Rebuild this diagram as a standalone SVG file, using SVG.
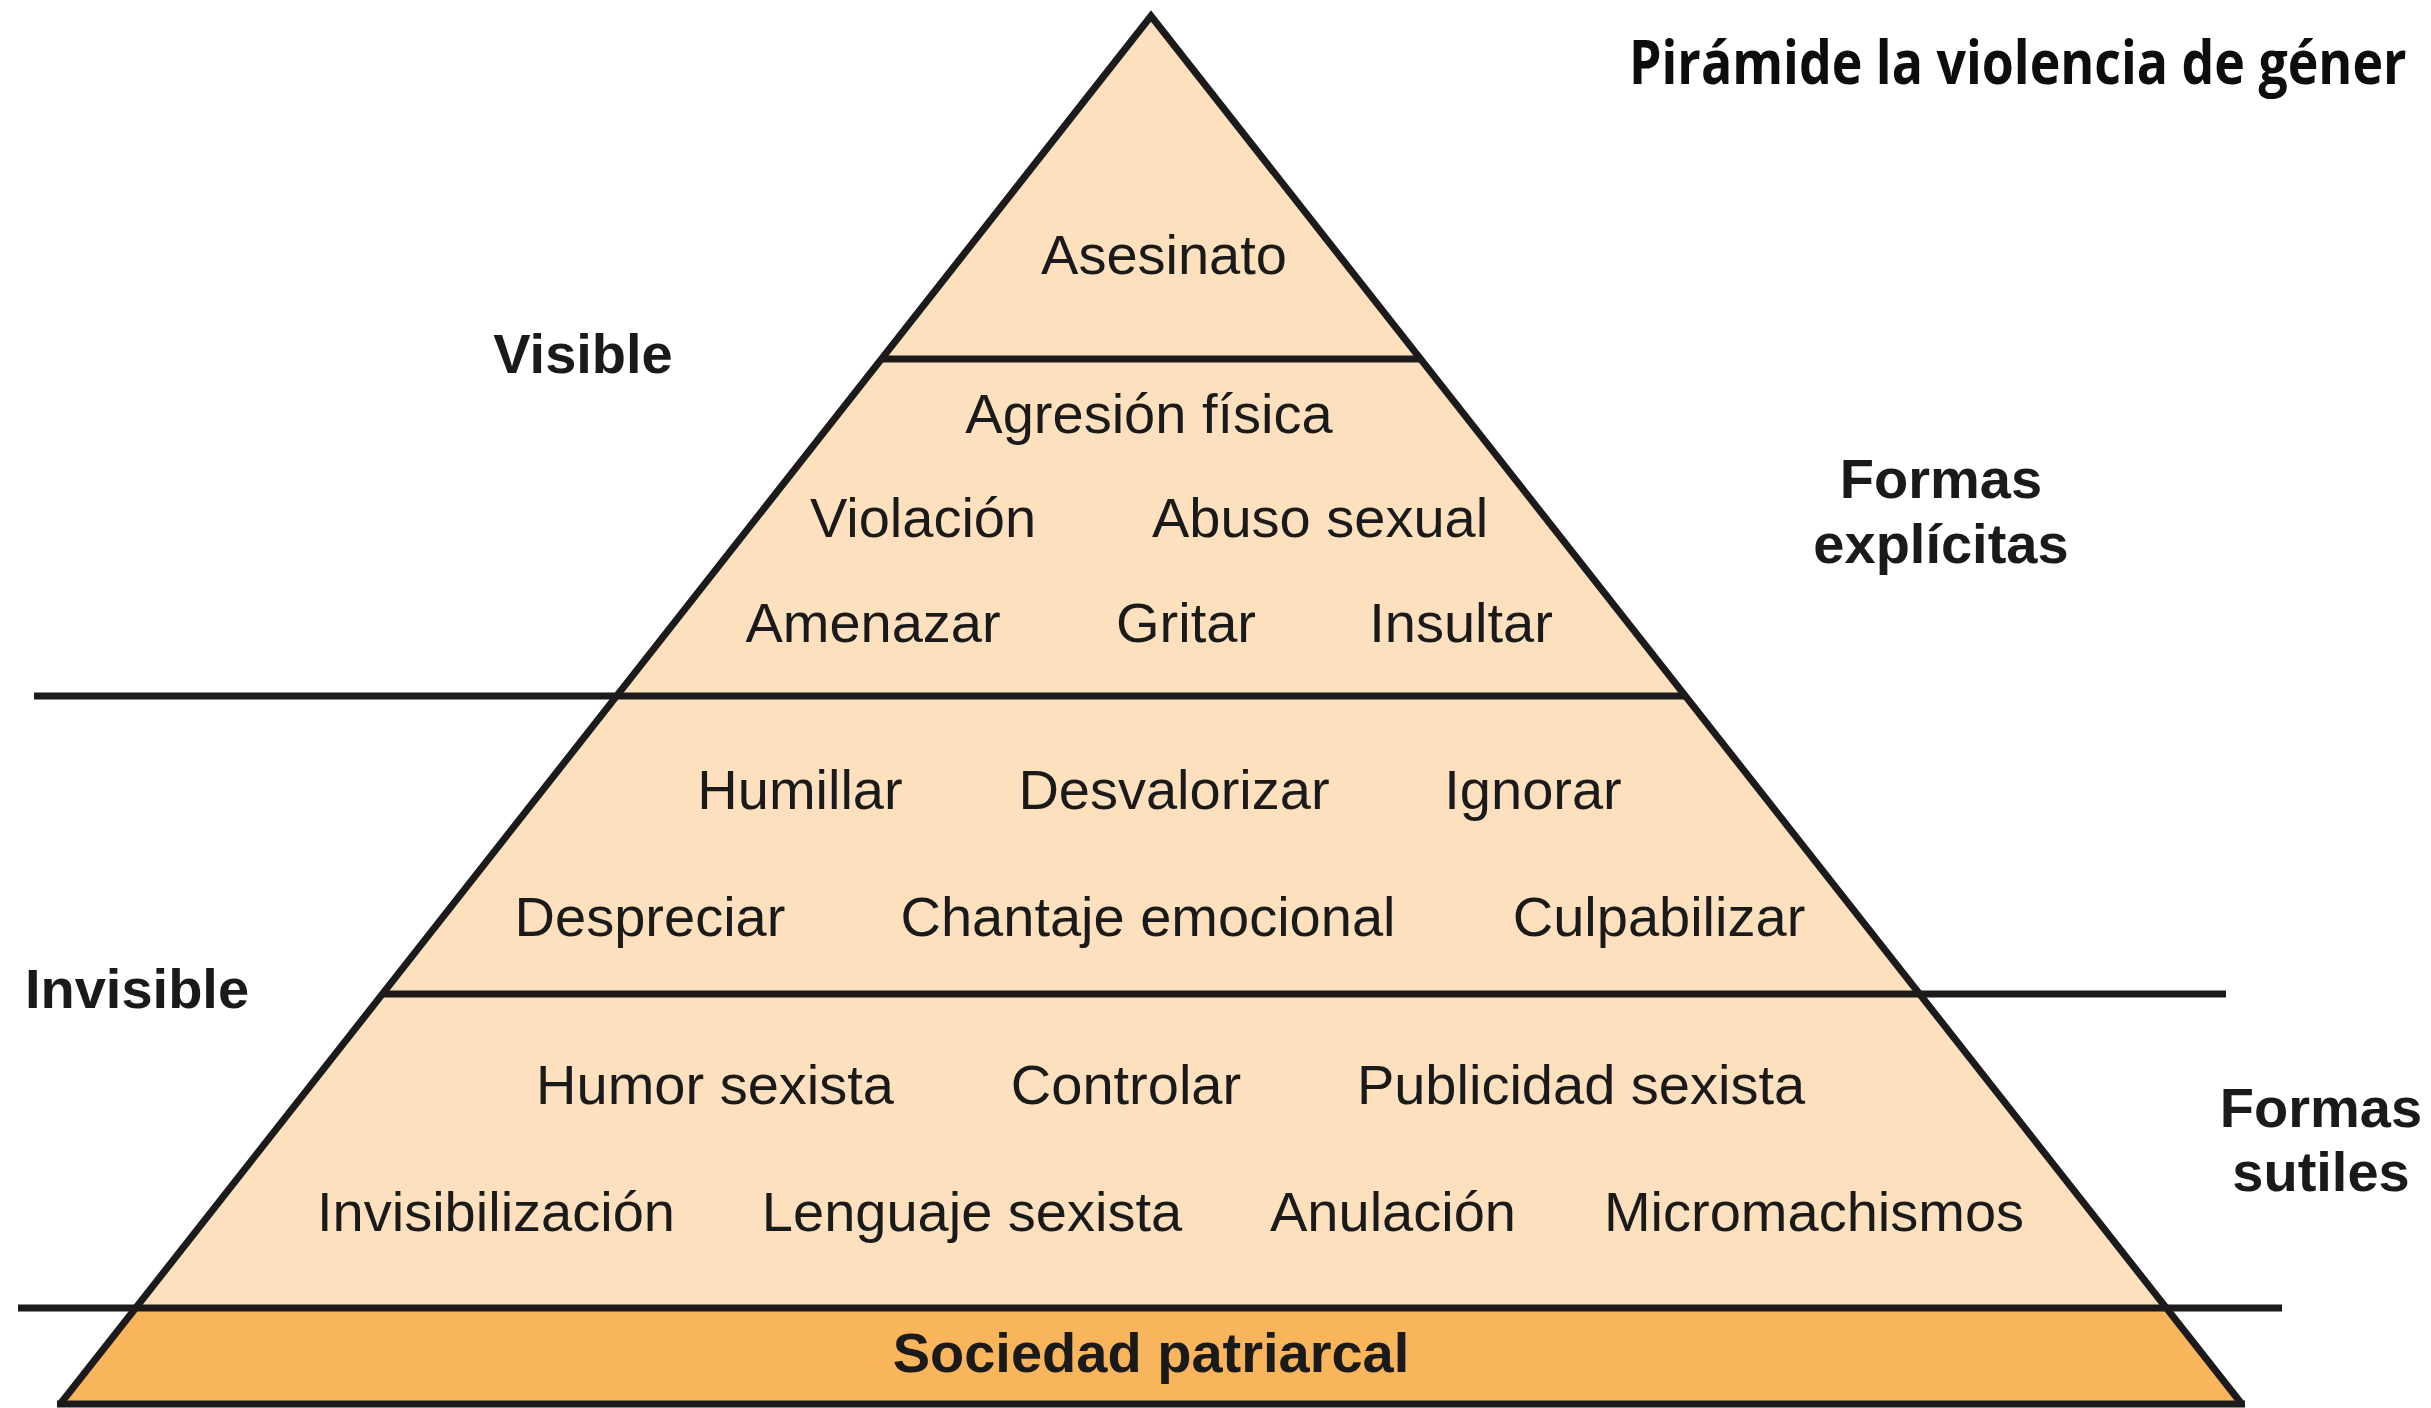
<svg xmlns="http://www.w3.org/2000/svg" width="2431" height="1408" viewBox="0 0 2431 1408">
  <style>
    .t { font-family: "Liberation Sans", Arial, sans-serif; font-size: 56px; fill: #1b1a1a; text-anchor: middle; }
    .b { font-weight: bold; }
    .ln { stroke: #1c1a1a; stroke-width: 7; fill: none; }
  </style>
  <rect x="0" y="0" width="2431" height="1408" fill="#ffffff"/>
  <g id="pyramid">
    <polygon points="1151,16 61,1403 2241,1403" fill="#fde0bd"/>
    <polygon id="base" points="135.5,1308 2166.5,1308 2241,1403 61,1403" fill="#f9b55c"/>
  </g>
  <g id="dividers">
    <line class="ln" x1="881" y1="359" x2="1421" y2="359"/>
    <line class="ln" x1="34" y1="696" x2="1685" y2="696"/>
    <line class="ln" x1="382" y1="994" x2="2226" y2="994"/>
    <line class="ln" x1="18" y1="1308" x2="2282" y2="1308"/>
    <polyline class="ln" points="61,1403 1151,16 2241,1403" stroke-linejoin="miter" stroke-miterlimit="10"/>
    <line class="ln" x1="57" y1="1404" x2="2245" y2="1404"/>
  </g>
  <g id="tier-top">
    <text class="t" x="1164" y="274">Asesinato</text>
  </g>
  <g id="tier-2">
    <text class="t" x="1149" y="433">Agresión física</text>
    <text class="t" x="923" y="537">Violación</text>
    <text class="t" x="1320" y="537">Abuso sexual</text>
    <text class="t" x="873" y="642">Amenazar</text>
    <text class="t" x="1186" y="642">Gritar</text>
    <text class="t" x="1461" y="642">Insultar</text>
  </g>
  <g id="tier-3">
    <text class="t" x="800" y="809">Humillar</text>
    <text class="t" x="1174" y="809">Desvalorizar</text>
    <text class="t" x="1533" y="809">Ignorar</text>
    <text class="t" x="650" y="936">Despreciar</text>
    <text class="t" x="1148" y="936">Chantaje emocional</text>
    <text class="t" x="1659" y="936">Culpabilizar</text>
  </g>
  <g id="tier-4">
    <text class="t" x="715" y="1104">Humor sexista</text>
    <text class="t" x="1126" y="1104">Controlar</text>
    <text class="t" x="1581" y="1104">Publicidad sexista</text>
    <text class="t" x="496" y="1231">Invisibilización</text>
    <text class="t" x="972" y="1231">Lenguaje sexista</text>
    <text class="t" x="1393" y="1231">Anulación</text>
    <text class="t" x="1814" y="1231">Micromachismos</text>
  </g>
  <g id="tier-base">
    <text class="t b" x="1151" y="1372">Sociedad patriarcal</text>
  </g>
  <g id="labels">
    <text class="t b" x="583" y="373">Visible</text>
    <text class="t b" x="1941" y="498">Formas</text>
    <text class="t b" x="1941" y="563">explícitas</text>
    <text class="t b" x="137" y="1008">Invisible</text>
    <text class="t b" x="2321" y="1127">Formas</text>
    <text class="t b" x="2321" y="1191">sutiles</text>
  </g>
  <g id="title">
    <text transform="translate(1629,84) scale(0.8,1)" x="0" y="0" font-family="'Open Sans', 'Liberation Sans', sans-serif" font-weight="bold" font-size="60" fill="#0d0d0d" textLength="972" lengthAdjust="spacingAndGlyphs">Pirámide la violencia de géner</text>
  </g>
</svg>
